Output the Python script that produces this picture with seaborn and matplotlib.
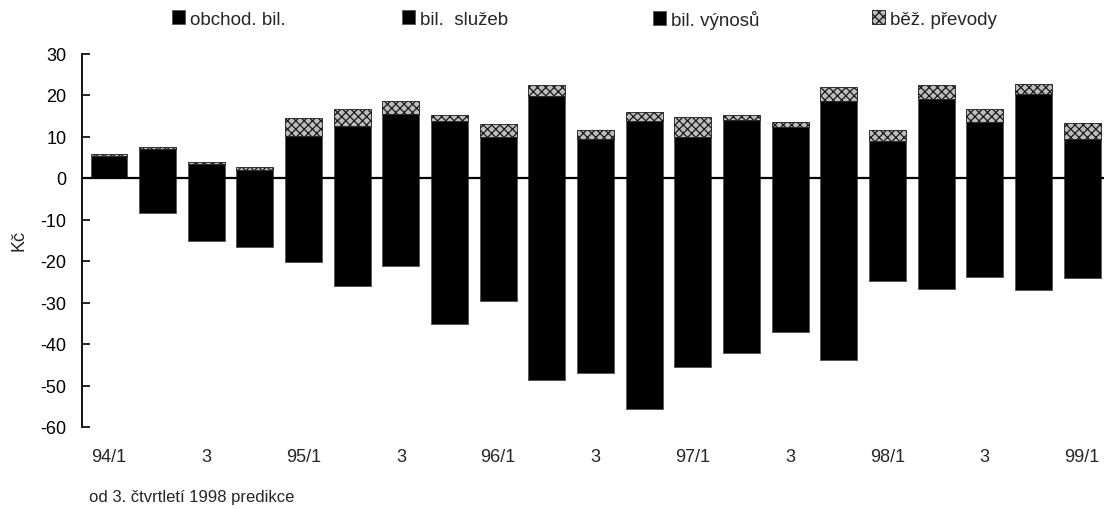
import matplotlib
matplotlib.use("Agg")
import matplotlib.pyplot as plt
import seaborn as sns
import numpy as np

# ---- data ----
quarters = ["94/1", "94/2", "94/3", "94/4",
            "95/1", "95/2", "95/3", "95/4",
            "96/1", "96/2", "96/3", "96/4",
            "97/1", "97/2", "97/3", "97/4",
            "98/1", "98/2", "98/3", "98/4",
            "99/1"]
tick_labels = ["94/1", "", "3", "", "95/1", "", "3", "", "96/1", "", "3", "",
               "97/1", "", "3", "", "98/1", "", "3", "", "99/1"]
obchod_bil = [0.0, -8.4, -15.2, -16.7, -20.3, -26.0, -21.2, -35.3, -29.6, -48.6,
              -47.1, -55.6, -45.5, -42.1, -37.2, -43.8, -24.7, -26.8, -23.9, -27.0, -24.0]
bil_sluzeb = [5.4, 6.9, 3.3, 1.9, 10.1, 12.6, 15.4, 13.8, 9.9, 19.8,
              9.5, 13.7, 9.9, 14.0, 12.2, 18.6, 9.0, 19.0, 13.5, 20.3, 9.5]
bil_vynosu = [0.0] * 21
bez_prevody = [0.5, 0.5, 0.5, 0.8, 4.3, 4.0, 3.1, 1.5, 3.0, 2.6,
               2.0, 2.2, 4.8, 1.1, 1.2, 3.4, 2.6, 3.4, 3.1, 2.4, 3.7]
series_names = ["obchod. bil.", "bil.  služeb", "bil. výnosů", "běž. převody"]
y_label = "Kč"
note = "od 3. čtvrtletí 1998 predikce"

# ---- style ----
sns.set_theme(style="white")
plt.rcParams["font.family"] = ["Liberation Sans", "DejaVu Sans"]
plt.rcParams["hatch.linewidth"] = 0.9

W, H = 1105, 510
fig = plt.figure(figsize=(W / 100, H / 100), dpi=100)
ax_left, ax_right, ax_top, ax_bot = 82, 1104, 54.5, 428
ax = fig.add_axes([ax_left / W, 1 - ax_bot / H, (ax_right - ax_left) / W, (ax_bot - ax_top) / H])

bw = 0.76
sns.barplot(x=quarters, y=obchod_bil, color="black", width=bw, ax=ax,
            edgecolor="#555555", linewidth=0.6, saturation=1)
sns.barplot(x=quarters, y=bil_sluzeb, color="black", width=bw, ax=ax,
            edgecolor="#555555", linewidth=0.6, saturation=1)
sns.barplot(x=quarters, y=bil_vynosu, color="black", width=bw, ax=ax,
            bottom=np.array(obchod_bil), edgecolor="#555555", linewidth=0.6, saturation=1)
sns.barplot(x=quarters, y=bez_prevody, color="#bdbdbd", width=bw, ax=ax,
            bottom=np.array(bil_sluzeb), edgecolor="#1a1a1a", linewidth=0.6,
            hatch="xxxx", saturation=1)

ax.axhline(0, color="black", lw=1.6, zorder=5)

ax.set_ylim(-60, 30)
ax.set_xlim(-0.555, 20.45)
ax.set_yticks(range(-60, 31, 10))
ax.set_yticklabels([str(v) for v in range(-60, 31, 10)], fontsize=13)
ax.set_xticks(range(len(quarters)))
ax.set_xticklabels(tick_labels, fontsize=13)
ax.tick_params(axis="x", length=0, pad=15)
ax.tick_params(axis="y", length=5.5, width=1.2, direction="in", pad=11, left=True, colors="black")
for s in ["top", "right", "bottom"]:
    ax.spines[s].set_visible(False)
ax.spines["left"].set_color("black")
ax.spines["left"].set_linewidth(1.3)
ax.set_xlabel("")
ax.set_ylabel("")

fig.text(19 / W, 1 - 241 / H, y_label, rotation=90, fontsize=13, ha="center", va="center")
fig.text(89 / W, 1 - 498 / H, note, fontsize=12, ha="left", va="center")

containers = ax.containers
handles = [containers[0], containers[1], containers[2], containers[3]]
marker_x = [172, 402, 653, 872]
for h, name, mx in zip(handles, series_names, marker_x):
    fig.legend([h], [name], loc="center left", bbox_to_anchor=(mx / W, 1 - 20 / H),
               frameon=False, fontsize=13.5, handlelength=0.7, handleheight=0.7,
               handletextpad=0.25, borderpad=0, borderaxespad=0)

fig.savefig("out.png", dpi=100)
